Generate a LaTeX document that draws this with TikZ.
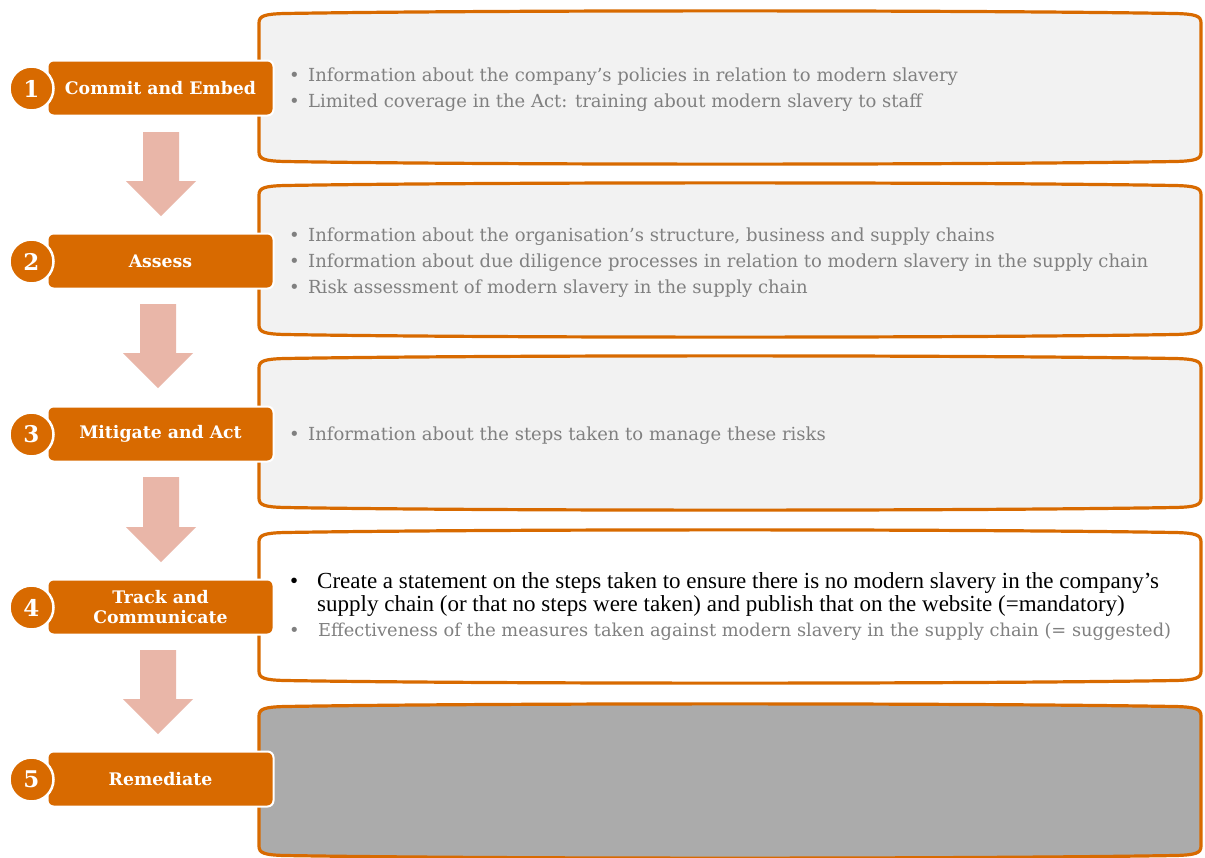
\documentclass[tikz,border=0pt]{standalone}
\usepackage{fontspec}
\setmainfont{DejaVu Serif}
\newfontfamily\timesf{Liberation Serif}
\definecolor{pwcorange}{RGB}{216,106,0}
\definecolor{boxgray}{RGB}{242,242,242}
\definecolor{darkbox}{RGB}{171,171,171}
\definecolor{txtgray}{RGB}{128,128,128}
\definecolor{arrowpink}{RGB}{233,182,168}
\newcommand{\pillowbox}[3]{%
  \path[#3] (259,#1+13) .. controls (259,#1+6) and (264,#1+4) .. (285,#1+3.5)
    .. controls (500,#1) and (960,#1) .. (1175,#1+3.5)
    .. controls (1196,#1+4) and (1201,#1+6) .. (1201,#1+13)
    -- (1201,#2-13) .. controls (1201,#2-6) and (1196,#2-4) .. (1175,#2-3.5)
    .. controls (960,#2) and (500,#2) .. (285,#2-3.5)
    .. controls (264,#2-4) and (259,#2-6) .. (259,#2-13) -- cycle;}
\newcommand{\blockarrow}[4]{% centre x, top y, head y, tip y
  \fill[arrowpink] (#1-18,#2) -- (#1+18,#2) -- (#1+18,#3) -- (#1+35,#3)
    -- (#1,#4) -- (#1-35,#3) -- (#1-18,#3) -- cycle;}
\tikzset{
  infobox/.style={fill=boxgray, draw=pwcorange, line width=3.2pt},
  whitebox/.style={fill=white, draw=pwcorange, line width=3.2pt},
  darkinfobox/.style={fill=darkbox, draw=pwcorange, line width=3.2pt},
  steptab/.style={fill=pwcorange, draw=white, line width=2pt, rounded corners=6pt,
    minimum width=226pt, minimum height=55pt, inner sep=0pt, text=white,
    font=\bfseries\fontsize{17.3}{20}\selectfont, align=center},
  stepnum/.style={circle, fill=pwcorange, draw=white, line width=2.5pt,
    minimum size=44pt, inner sep=0pt, text=white,
    font=\bfseries\fontsize{23}{26}\selectfont},
  graytxt/.style={anchor=base west, inner sep=0pt, text=txtgray,
    font=\fontsize{18}{21}\selectfont},
  blacktxt/.style={anchor=base west, inner sep=0pt, text=black,
    font=\timesf\fontsize{23}{26}\selectfont},
}
\newcommand{\gb}{\makebox[19pt][l]{\textbullet}}
\newcommand{\bb}{\makebox[27pt][l]{\textbullet}}
\begin{document}
\begin{tikzpicture}[x=1pt,y=-1pt]
\useasboundingbox (0,0) rectangle (1205,857);
\fill[white] (0,0) rectangle (1205,857);
% boxes
\pillowbox{10}{165}{infobox}
\pillowbox{182}{338}{infobox}
\pillowbox{355}{511}{infobox}
\pillowbox{529}{684}{whitebox}
\pillowbox{703}{859}{darkinfobox}
% arrows
\blockarrow{161}{132}{181}{216}
\blockarrow{158}{304}{353}{388}
\blockarrow{161}{477}{527}{562}
\blockarrow{158}{650}{699}{734}
% tabs
\node[steptab] (s1) at (160.5,88) {Commit and Embed};
\node[steptab] (s2) at (160.5,261) {Assess};
\node[steptab] (s3) at (160.5,434) {Mitigate and Act};
\node[steptab] (s4) at (160.5,607) {Track and\\ Communicate};
\node[steptab] (s5) at (160.5,779) {Remediate};
\node[stepnum] (n1) at (31.5,88.5) {1};
\node[stepnum] (n2) at (31.5,261.5) {2};
\node[stepnum] (n3) at (31.5,434.5) {3};
\node[stepnum] (n4) at (31.5,607.5) {4};
\node[stepnum] (n5) at (31.5,779.5) {5};
% texts
\node[graytxt] (t1a) at (289,81) {\gb Information about the company’s policies in relation to modern slavery};
\node[graytxt] (t1b) at (289,107) {\gb Limited coverage in the Act: training about modern slavery to staff};
\node[graytxt] (t2a) at (289,241) {\gb Information about the organisation’s structure, business and supply chains};
\node[graytxt] (t2b) at (289,267) {\gb Information about due diligence processes in relation to modern slavery in the supply chain};
\node[graytxt] (t2c) at (289,293) {\gb Risk assessment of modern slavery in the supply chain};
\node[graytxt] (t3a) at (289,440) {\gb Information about the steps taken to manage these risks};
\node[blacktxt] (t4a) at (290,588) {\bb Create a statement on the steps taken to ensure there is no modern slavery in the company’s};
\node[blacktxt] (t4b) at (317,611) {supply chain (or that no steps were taken) and publish that on the website (=mandatory)};
\node[graytxt, font=\fontsize{17.8}{21}\selectfont] (t4c) at (289,636) {\makebox[29pt][l]{\textbullet}Effectiveness of the measures taken against modern slavery in the supply chain (= suggested)};
\end{tikzpicture}
\end{document}
